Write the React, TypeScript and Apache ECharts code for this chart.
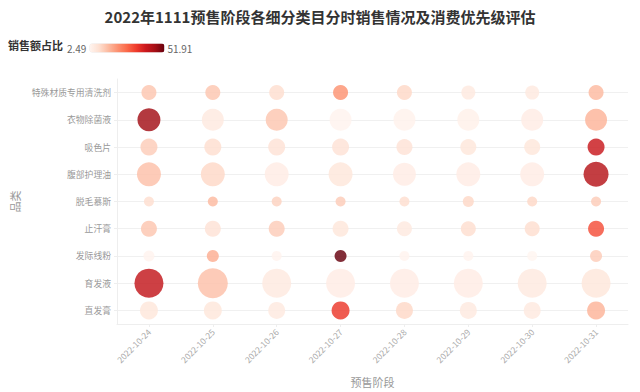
import React, { useEffect, useRef } from "react";
import * as echarts from "echarts";

const dates = ["2022-10-24", "2022-10-25", "2022-10-26", "2022-10-27", "2022-10-28", "2022-10-29", "2022-10-30", "2022-10-31"];
const categories = ["特殊材质专用清洗剂", "衣物除菌液", "吸色片", "腹部护理油", "脱毛慕斯", "止汗膏", "发际线粉", "育发液", "直发膏"];

// 销售额占比 (%) per category, one value per date
const share: number[][] = [
  [13, 13, 9, 21, 10, 6, 6, 15],
  [46, 6, 13, 3, 3.5, 4, 5, 16],
  [12, 9, 8, 8, 8, 7, 7, 40],
  [14, 10, 5, 7, 5, 5, 5, 43],
  [9, 15, 11, 12, 9, 10, 10, 12],
  [13, 8, 12, 7, 6, 9, 9, 31],
  [3, 17, 3, 51.91, 3, 3, 2.49, 12],
  [41, 14, 6, 5, 5, 5, 6, 7],
  [7, 7, 6, 34, 10, 6, 6, 16],
];

// 消费优先级 score per category and date (drawn as bubble size)
const priority: number[][] = [
  [15, 15, 15, 15, 15, 14, 14, 15],
  [23, 22, 22, 22, 22, 22, 22, 22],
  [17, 17, 17, 17, 16, 16, 16, 17],
  [24, 24, 24, 24, 23, 24, 24, 25],
  [10, 10, 10, 10, 10, 11, 10, 10],
  [16, 16, 16, 16, 15, 15, 15, 16],
  [11, 12, 10, 12, 10, 10, 10, 12],
  [29, 30, 29, 29, 29, 29, 29, 29],
  [18, 18, 17, 18, 17, 17, 17, 18],
];

const shareMin = 2.49;
const shareMax = 51.91;

export default function App() {
  const ref = useRef<HTMLDivElement>(null);
  useEffect(() => {
    document.body.style.margin = "0";
    if (!ref.current) return;
    const chart = echarts.init(ref.current, undefined, { renderer: "svg" });
    const data: number[][] = [];
    categories.forEach((_, ci) => {
      dates.forEach((_, di) => {
        data.push([di, ci, share[ci][di], priority[ci][di]]);
      });
    });
    const font = "'Noto Sans CJK SC', 'Noto Sans', sans-serif";
    chart.setOption({
      animation: false,
      textStyle: { fontFamily: font },
      title: [
        {
          text: "2022年1111预售阶段各细分类目分时销售情况及消费优先级评估",
          left: "center",
          top: 4,
          textStyle: { fontSize: 15, fontWeight: "bold", color: "#333", fontFamily: font },
        },
        {
          text: "销售额占比",
          left: 3,
          top: 34,
          textStyle: { fontSize: 11, fontWeight: "bold", color: "#333", fontFamily: font },
        },
      ],
      visualMap: {
        type: "continuous",
        min: shareMin,
        max: shareMax,
        dimension: 2,
        orient: "horizontal",
        left: 52,
        top: 28,
        itemWidth: 9,
        itemHeight: 75,
        calculable: false,
        text: [String(shareMax), String(shareMin)],
        textGap: 3,
        textStyle: { fontSize: 10, color: "#666", fontFamily: font },
        inRange: {
          color: ["#fff5f0", "#fee0d2", "#fcbba1", "#fc9272", "#fb6a4a", "#ef3b2c", "#cb181d", "#a50f15", "#67000d"],
        },
      },
      grid: { left: 117, right: 12, top: 79, bottom: 67 },
      xAxis: {
        type: "category",
        data: dates,
        name: "预售阶段",
        nameLocation: "middle",
        nameGap: 52,
        nameTextStyle: { fontSize: 11, color: "#999" },
        axisLine: { lineStyle: { color: "#eee" } },
        axisTick: { show: true, alignWithLabel: true, length: 3, lineStyle: { color: "#eee" } },
        axisLabel: { rotate: 45, fontSize: 8.5, color: "#aaa", margin: 6 },
        splitLine: { show: false },
      },
      yAxis: {
        type: "category",
        data: categories,
        inverse: true,
        name: "品类",
        nameLocation: "middle",
        nameGap: 80,
        nameRotate: 90,
        nameTextStyle: { fontSize: 11, color: "#999" },
        axisLine: { show: true, lineStyle: { color: "#eee" } },
        axisTick: { show: true, alignWithLabel: true, length: 3, lineStyle: { color: "#eee" } },
        axisLabel: { fontSize: 8.8, color: "#999", margin: 6 },
        splitLine: { show: true, alignWithLabel: true, lineStyle: { color: "#f0f0f0" } },
      },
      series: [
        {
          type: "scatter",
          data,
          symbolSize: (v: number[]) => v[3],
          itemStyle: { opacity: 0.82 },
        },
      ],
    });
    return () => chart.dispose();
  }, []);
  return <div ref={ref} style={{ width: 640, height: 392 }} />;
}
